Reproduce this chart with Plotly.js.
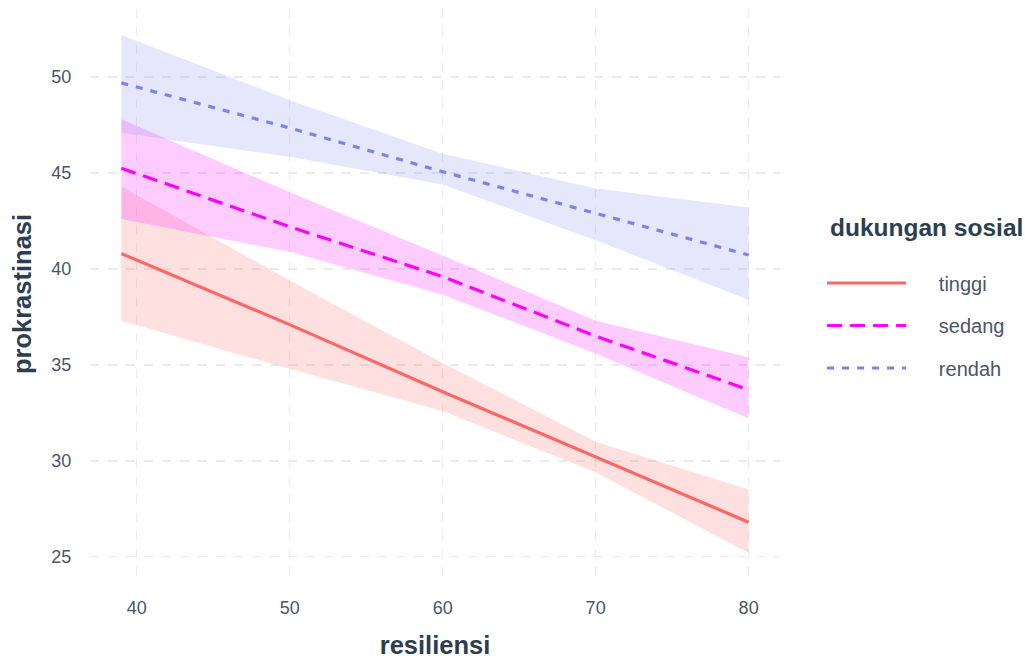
<!DOCTYPE html>
<html>
<head>
<meta charset="utf-8">
<script src="https://cdn.plot.ly/plotly-3.0.1.min.js"></script>
<style>html,body{margin:0;padding:0;background:#fff;}#chart{width:1025px;height:659px;}</style>
</head>
<body>
<div id="chart"></div>
<script>
// resiliensi values at which the fitted lines and bands are read
const resiliensi = [39, 50, 60, 70, 80];

// fitted prokrastinasi per dukungan sosial group
const tinggiFit = [40.8, 37.1, 33.6, 30.2, 26.8];
const tinggiUpper = [44.3, 39.4, 35.1, 31.0, 28.5];
const tinggiLower = [37.3, 34.8, 32.6, 29.4, 25.2];

const sedangFit = [45.25, 42.2, 39.6, 36.5, 33.7];
const sedangUpper = [47.8, 44.0, 40.7, 37.3, 35.4];
const sedangLower = [42.6, 40.9, 38.65, 35.6, 32.2];

const rendahFit = [49.7, 47.35, 45.07, 42.9, 40.73];
const rendahUpper = [52.2, 48.8, 46.0, 44.2, 43.2];
const rendahLower = [47.1, 45.85, 44.4, 41.5, 38.4];

const groups = ['tinggi', 'sedang', 'rendah'];
const legendTitle = 'dukungan sosial';

const series = [
  {name: groups[0], fit: tinggiFit, up: tinggiUpper, lo: tinggiLower, color: '#FF6666', fill: 'rgba(255,102,102,0.2)', dash: 'solid'},
  {name: groups[1], fit: sedangFit, up: sedangUpper, lo: sedangLower, color: '#FF00FF', fill: 'rgba(255,0,255,0.2)', dash: '15px,8px'},
  {name: groups[2], fit: rendahFit, up: rendahUpper, lo: rendahLower, color: '#8080F0', fill: 'rgba(128,128,240,0.2)', dash: '7px,8px'}
];

const pad = '\u00A0\u00A0\u00A0\u00A0\u00A0';
const traces = [];
series.forEach(s => {
  traces.push({
    x: resiliensi.concat(resiliensi.slice().reverse()),
    y: s.up.concat(s.lo.slice().reverse()),
    type: 'scatter', mode: 'lines', fill: 'toself', fillcolor: s.fill,
    line: {width: 0, color: 'rgba(0,0,0,0)'}, hoverinfo: 'skip', showlegend: false
  });
});
series.forEach(s => {
  traces.push({
    x: resiliensi, y: s.fit, name: pad + s.name, legendgroup: s.name,
    type: 'scatter', mode: 'lines',
    line: {color: s.color, width: 3.2, dash: s.dash}
  });
});

const fam = 'Liberation Sans, Arial, sans-serif';
const tickFont = {family: fam, size: 18, color: '#4D5566'};
const titleFont = {family: fam, size: 25.5, color: '#2C3E50', weight: 'bold'};

const layout = {
  width: 1025, height: 659,
  margin: {l: 90, r: 245, t: 9, b: 80},
  paper_bgcolor: '#fff', plot_bgcolor: '#fff',
  showlegend: true,
  xaxis: {
    range: [36.95, 82.05], tickvals: [40, 50, 60, 70, 80], ticktext: ['40','50','60','70','80'],
    showgrid: true, gridcolor: '#EBEBEB', gridwidth: 1.4, griddash: 'dash',
    zeroline: false, showline: false,
    ticks: 'outside', ticklen: 12, tickcolor: 'rgba(0,0,0,0)',
    tickfont: tickFont,
    title: {text: 'resiliensi', font: titleFont, standoff: 21}
  },
  yaxis: {
    range: [23.84, 53.55], tickvals: [25, 30, 35, 40, 45, 50], ticktext: ['25','30','35','40','45','50'],
    showgrid: true, gridcolor: '#EBEBEB', gridwidth: 1.4, griddash: 'dash',
    zeroline: false, showline: false,
    ticks: 'outside', ticklen: 14, tickcolor: 'rgba(0,0,0,0)',
    tickfont: tickFont,
    title: {text: 'prokrastinasi', font: titleFont, standoff: 12}
  },
  legend: {
    x: 1.061, xanchor: 'left', y: 0.5535, yanchor: 'top',
    bgcolor: 'rgba(0,0,0,0)',
    traceorder: 'grouped', tracegroupgap: 13.5,
    itemwidth: 79,
    font: {family: fam, size: 20, color: '#4D5566'}
  },
  annotations: [{
    text: legendTitle, xref: 'paper', yref: 'paper', x: 1.0696, y: 0.6158,
    xanchor: 'left', yanchor: 'middle', showarrow: false,
    font: {family: fam, size: 24.5, color: '#2C3E50', weight: 'bold'}
  }]
};

Plotly.newPlot('chart', traces, layout, {displayModeBar: false, staticPlot: true});
</script>
</body>
</html>
